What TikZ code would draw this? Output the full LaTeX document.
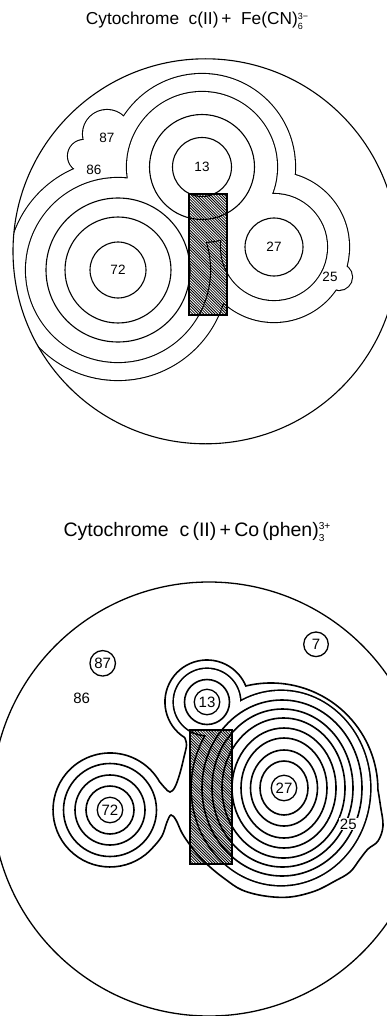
\documentclass[tikz,border=0pt]{standalone}
\usepackage{fontspec}
\setmainfont{Liberation Sans}
\newcommand\supsubx[2]{\raisebox{-0.26em}{\fontsize{0.52em}{0.52em}\selectfont\begin{tabular}[b]{@{}l@{}}#1\\[0.12em]#2\end{tabular}}}
\newcommand\hatchrect[4]{%
  \begin{scope}
    \clip (#1,#2) rectangle (#3,#4);
    \foreach \hh in {-150,-147.2,...,50} \draw[line width=0.8pt] (#1+\hh,#2) -- ++(150,150);
  \end{scope}
  \draw[line width=2pt] (#1,#2) rectangle (#3,#4);
}
\begin{document}
\begin{tikzpicture}[x=1pt,y=-1pt,
  cont/.style={line width=1.1pt},
  contb/.style={line width=1.6pt},
  lab/.style={font=\fontsize{13.5}{14}\selectfont, inner sep=0pt},
  labb/.style={font=\fontsize{15}{16}\selectfont, inner sep=0pt},
  clab/.style={font=\fontsize{15}{16}\selectfont, circle, draw, line width=1.3pt, inner sep=0pt, minimum size=25.5pt},
  ttl/.style={font=\fontsize{17.3}{19}\selectfont, inner sep=0pt},
  ttlb/.style={font=\fontsize{19.5}{21}\selectfont, inner sep=0pt}]
\useasboundingbox (0,0) rectangle (387,1016);
\clip (0,0) rectangle (387,1016);

% ================= TOP =================
\node[ttl] (t1) at (197,22) {Cytochrome\ \ c(II)\,+\ \ Fe(CN)\supsubx{3−}{6}};

\begin{scope}
  \clip (205.5,251.3) circle[radius=192.5];
  % level A (outer union)
  \draw[line width=2.2pt] (118,270) circle[radius=110] (202,167) circle[radius=93]
     (274,247) circle[radius=75] (107,134) circle[radius=24] (84,156) circle[radius=16]
     (339,277) circle[radius=13];
  \fill[white] (118,270) circle[radius=110] (202,167) circle[radius=93]
     (274,247) circle[radius=75] (107,134) circle[radius=24] (84,156) circle[radius=16]
     (339,277) circle[radius=13] (96,150) circle[radius=14] (107,158) circle[radius=7];
  % level B
  \draw[line width=2.2pt] (118,270) circle[radius=92] (202,167) circle[radius=75]
     (274,247) circle[radius=53];
  \fill[white] (118,270) circle[radius=92] (202,167) circle[radius=75]
     (274,247) circle[radius=53];
  % inner rings
  \draw[cont] (202,167) circle[radius=52.5] (202,167) circle[radius=29.5]
     (118,270) circle[radius=72] (118,270) circle[radius=53] (118,270) circle[radius=28]
     (274,247) circle[radius=29];
\end{scope}
\hatchrect{189}{194}{227}{315}
\draw[cont] (205.5,251.3) circle[radius=192.5];

\node[lab] (a87) at (107,138) {87};
\node[lab] (a86) at (94,170) {86};
\node[lab] (a13) at (202,167) {13};
\node[lab] (a72) at (118,270) {72};
\node[lab] (a27) at (274,247) {27};
\node[lab] (a25) at (330,277) {25};

% ================= BOTTOM =================
\node[ttlb] (t2) at (197,533) {Cytochrome\ \ c\,(II)\,+\,Co\,(phen)\supsubx{3+}{3}};

% outermost contour
\draw[contb, fill=white] (184.7,737.6) arc[start angle=122, end angle=337.6, radius=42]
  arc[start angle=256.4, end angle=360, radius=107]
  -- plot[smooth, tension=0.6] coordinates {(378,790) (380.5,806) (383,826) (378,841) (368,849)
     (360,859) (350,872) (335,881) (315,891) (290,897) (265,896) (242,890) (225,879) (210,867)
     (198,855) (190,845) (182,833) (176,820) (171,815) (167,822) (162,836) (153.7,846.6)}
  arc[start angle=40, end angle=330, radius=57]
  -- plot[smooth, tension=0.6] coordinates {(159.4,781.5) (165,788) (170,792) (175,787) (180,773)
     (184,757) (186.5,745) (184.7,737.6)} -- cycle;
% level 8 union
\draw[line width=3.2pt] (281,788) ellipse[x radius=89, y radius=97] (207,702) circle[radius=33];
\fill[white] (281,788) ellipse[x radius=89, y radius=97] (207,702) circle[radius=33];
% rings of 27
\draw[contb] (282,788) ellipse[x radius=80, y radius=88]
  (282.5,788) ellipse[x radius=70.5, y radius=79]
  (283.5,788) ellipse[x radius=61.5, y radius=70]
  (284,788) ellipse[x radius=52, y radius=60]
  (284,788) ellipse[x radius=43, y radius=50]
  (284,788) ellipse[x radius=33.5, y radius=38]
  (284,788) ellipse[x radius=24, y radius=27];
% rings of 13 and 72
\draw[contb] (207,702) circle[radius=22.5]
  (110,810) circle[radius=46.5] (110,810) circle[radius=35] (110,810) circle[radius=24];
\hatchrect{190}{730}{232}{864}
\draw[line width=1.3pt] (209,799) circle[radius=217];

\node[clab] (b13) at (207,702) {13};
\node[clab] (b72) at (110,810) {72};
\node[clab] (b27) at (284,788) {27};
\node[clab] (b87) at (102.7,663.3) {87};
\node[clab, minimum size=24.6pt] (b7) at (316,644.3) {7};
\node[labb] (b86) at (81.7,698.3) {86};
\node[labb, fill=white, inner sep=1pt] (b25) at (348.3,824) {25};
\end{tikzpicture}
\end{document}
